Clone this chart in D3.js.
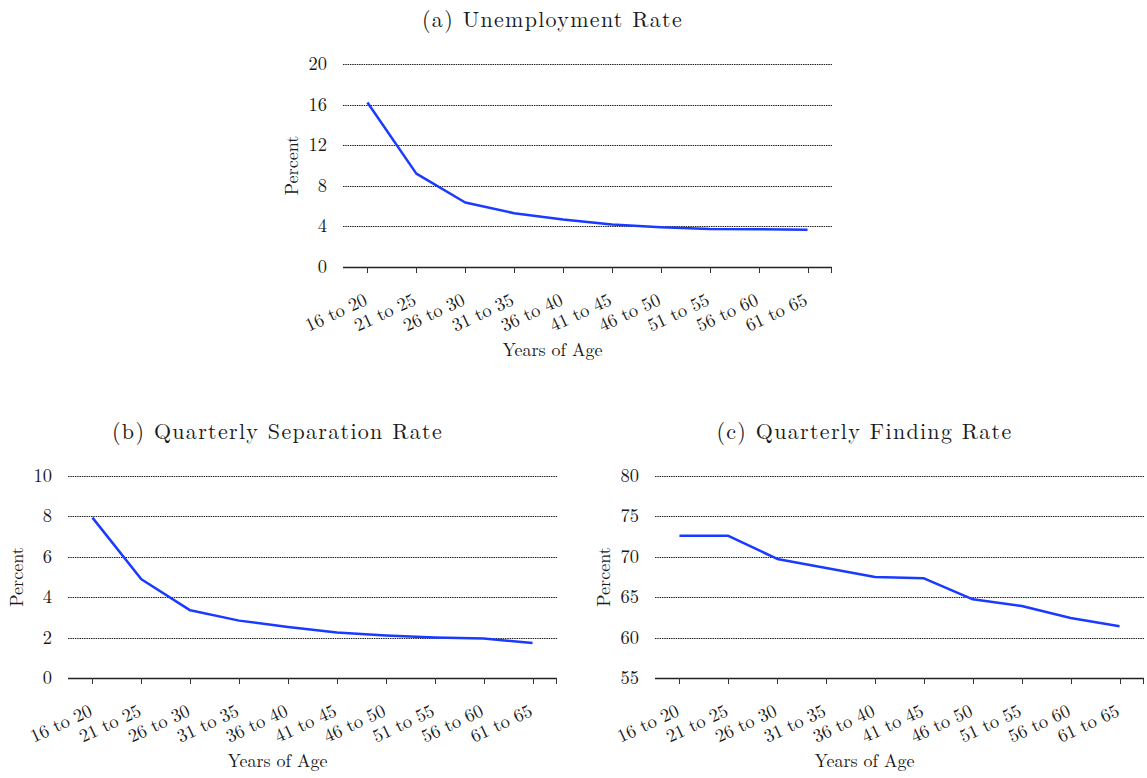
<!DOCTYPE html>
<html>
<head>
<meta charset="utf-8">
<script src="https://cdn.jsdelivr.net/npm/d3@7"></script>
<style>
  html, body { margin: 0; padding: 0; background: #fff; }
</style>
</head>
<body>
<svg id="chart" width="1147" height="778"></svg>
<script>
// ---- data ----
const ageGroups = ["16 to 20","21 to 25","26 to 30","31 to 35","36 to 40","41 to 45","46 to 50","51 to 55","56 to 60","61 to 65"];
const unemploymentRate = [16.2, 9.2, 6.35, 5.3, 4.67, 4.18, 3.91, 3.75, 3.72, 3.66];
const separationRate   = [7.94, 4.89, 3.35, 2.84, 2.52, 2.25, 2.1, 2.0, 1.95, 1.73];
const findingRate      = [72.62, 72.6, 69.73, 68.61, 67.5, 67.34, 64.74, 63.91, 62.43, 61.4];
const unemploymentTicks = [0, 4, 8, 12, 16, 20];
const separationTicks   = [0, 2, 4, 6, 8, 10];
const findingTicks      = [55, 60, 65, 70, 75, 80];
const titles = ["(a) Unemployment Rate", "(b) Quarterly Separation Rate", "(c) Quarterly Finding Rate"];
const xTitle = "Years of Age";
const yTitle = "Percent";

const FONT = '"Latin Modern Roman", "CMU Serif", "Liberation Serif", serif';
const svg = d3.select("#chart");

function txt(sel) {
  return sel.style("font-family", FONT).style("fill", "#1a1a1a");
}

function drawPanel(opts) {
  const { left, right, top, bottom, values, ticks, title } = opts;
  const g = svg.append("g");
  const x = d3.scalePoint().domain(ageGroups).range([left, right]).padding(0.5);
  const y = d3.scaleLinear().domain([ticks[0], ticks[ticks.length - 1]]).range([bottom, top]);
  const cx = (left + right) / 2 - 35;

  // gridlines
  g.selectAll("line.grid").data(ticks.slice(1)).join("line")
    .attr("class", "grid")
    .attr("x1", left).attr("x2", right)
    .attr("y1", d => Math.round(y(d)) + 0.5).attr("y2", d => Math.round(y(d)) + 0.5)
    .attr("stroke", "#222").attr("stroke-width", 1)
    .attr("stroke-dasharray", "1.5,0.8");

  // y tick labels
  txt(g.selectAll("text.ytick").data(ticks).join("text"))
    .attr("class", "ytick")
    .attr("x", left - 16).attr("y", d => y(d) + 6)
    .attr("text-anchor", "end")
    .style("font-size", "18.5px")
    .text(d => d);

  // x axis line
  g.append("line")
    .attr("x1", left).attr("x2", right)
    .attr("y1", Math.round(bottom) + 0.5).attr("y2", Math.round(bottom) + 0.5)
    .attr("stroke", "#222").attr("stroke-width", 1.5);

  // ticks
  g.selectAll("line.xtick").data(ageGroups).join("line")
    .attr("class", "xtick")
    .attr("x1", d => Math.round(x(d)) + 0.5).attr("x2", d => Math.round(x(d)) + 0.5)
    .attr("y1", bottom).attr("y2", bottom + 6)
    .attr("stroke", "#333").attr("stroke-width", 1);
  g.append("line")
    .attr("x1", right - 0.5).attr("x2", right - 0.5)
    .attr("y1", bottom).attr("y2", bottom + 6)
    .attr("stroke", "#333").attr("stroke-width", 1);

  // x tick labels rotated
  txt(g.selectAll("text.xlabel").data(ageGroups).join("text"))
    .attr("class", "xlabel")
    .attr("text-anchor", "end")
    .style("font-size", "18.5px")
    .attr("transform", d => `translate(${x(d) + 1},${bottom + 37}) rotate(-25)`)
    .text(d => d);

  // line
  const line = d3.line().x((d, i) => x(ageGroups[i])).y(d => y(d));
  g.append("path").datum(values)
    .attr("d", line)
    .attr("fill", "none")
    .attr("stroke", "#1a3aff")
    .attr("stroke-width", 2.5)
    .attr("stroke-linejoin", "round");

  // title
  txt(g.append("text"))
    .attr("x", cx).attr("y", top - 37)
    .attr("text-anchor", "middle")
    .style("font-size", "22px")
    .style("letter-spacing", "1.3px")
    .text(title);

  // x title
  txt(g.append("text"))
    .attr("x", cx).attr("y", bottom + 89)
    .attr("text-anchor", "middle")
    .style("font-size", "18px")
    .text(xTitle);

  // y title
  txt(g.append("text"))
    .attr("transform", `translate(${left - 45},${(top + bottom) / 2}) rotate(-90)`)
    .attr("text-anchor", "middle")
    .style("font-size", "18px")
    .text(yTitle);
}

drawPanel({ left: 343, right: 832, top: 64, bottom: 267, values: unemploymentRate, ticks: unemploymentTicks, title: titles[0] });
drawPanel({ left: 68, right: 557, top: 476, bottom: 678, values: separationRate, ticks: separationTicks, title: titles[1] });
drawPanel({ left: 655, right: 1144, top: 476, bottom: 678, values: findingRate, ticks: findingTicks, title: titles[2] });
</script>
</body>
</html>
